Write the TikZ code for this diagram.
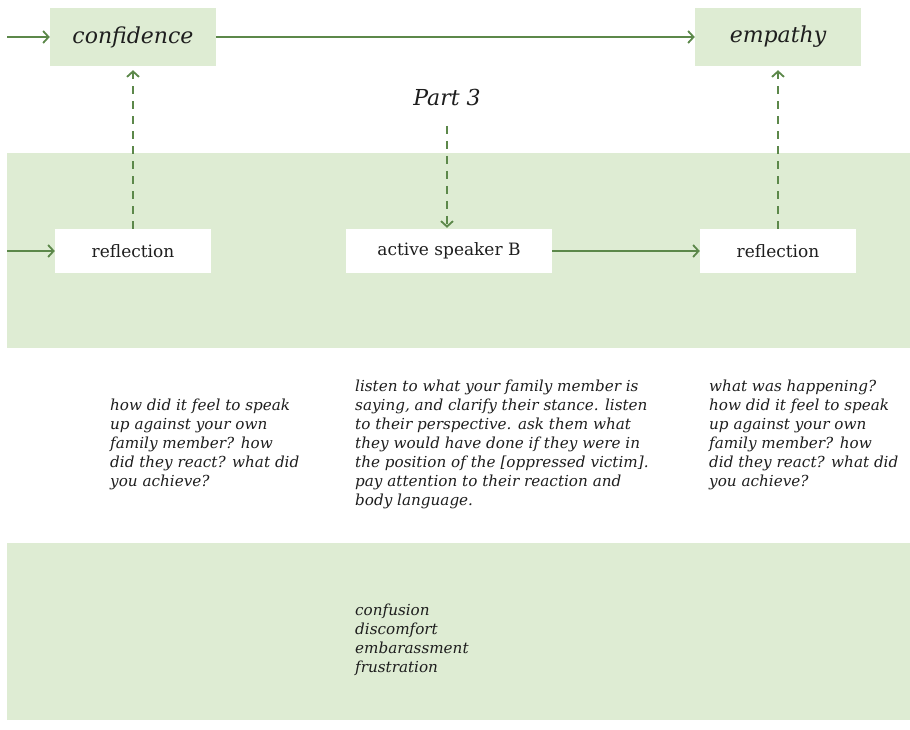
\documentclass[tikz,border=0pt]{standalone}
\usepackage{fontspec}
\setmainfont{DejaVu Serif}
\usetikzlibrary{arrows.meta}
\definecolor{leaf}{RGB}{222,236,211}
\definecolor{stem}{RGB}{92,136,74}
\definecolor{ink}{RGB}{30,30,30}
\tikzset{
  goal/.style={fill=leaf, minimum width=166pt, minimum height=58pt, inner sep=0pt,
    font=\fontsize{22}{26}\selectfont\itshape, text=ink},
  stagebox/.style={fill=white, minimum height=44pt, inner sep=0pt,
    font=\fontsize{17}{20}\selectfont, text=ink},
  flow/.style={draw=stem, line width=1.8pt, -{Straight Barb[length=5.5pt,width=12pt,line width=1.8pt]}},
  hint/.style={flow, dash pattern=on 8pt off 7pt},
  note/.style={anchor=north west, inner sep=0pt, align=left, text=ink,
    font=\fontsize{15.2}{19}\selectfont\itshape},
}
\begin{document}
\begin{tikzpicture}[x=1pt,y=-1pt]
\useasboundingbox (0,0) rectangle (910,730);
\fill[white] (0,0) rectangle (910,730);
% green bands
\fill[leaf] (7,153) rectangle (910,348);
\fill[leaf] (7,543) rectangle (910,720);

% top row
\node[goal] (conf) at (133,37) {confidence};
\node[goal] (emp) at (778,37) {empathy};
\node[font=\fontsize{22}{26}\selectfont\itshape, text=ink] (part) at (447,97) {Part 3};

% stage row
\node[stagebox, minimum width=156pt] (refa) at (133,251) {reflection};
\node[stagebox, minimum width=206pt] (spk) at (449,251) {active speaker B};
\node[stagebox, minimum width=156pt] (refb) at (778,251) {reflection};

\coordinate (inA) at (7,37);
\coordinate (inB) at (7,251);
\coordinate (partfoot) at (447,126);

\draw[flow] (inA) -- (conf.west);
\draw[flow] (conf.east) -- (emp.west);
\draw[flow] (inB) -- (refa.west);
\draw[flow] (spk.east) -- (refb.west);
\draw[hint, shorten >=4pt] (refa.north) -- (conf.south);
\draw[hint, shorten >=4pt] (refb.north) -- (emp.south);
\draw[hint, shorten >=1pt] (partfoot) -- (spk.north -| partfoot);

% notes
\node[note] (na) at (110,399) {how did it feel to speak\\up against your own\\family member? how\\did they react? what did\\you achieve?};
\node[note] (nb) at (355,380) {listen to what your family member is\\saying, and clarify their stance. listen\\to their perspective. ask them what\\they would have done if they were in\\the position of the [oppressed victim].\\pay attention to their reaction and\\body language.};
\node[note] (nc) at (709,380) {what was happening?\\how did it feel to speak\\up against your own\\family member? how\\did they react? what did\\you achieve?};
\node[note] (nd) at (355,604) {confusion\\discomfort\\embarassment\\frustration};
\end{tikzpicture}
\end{document}
